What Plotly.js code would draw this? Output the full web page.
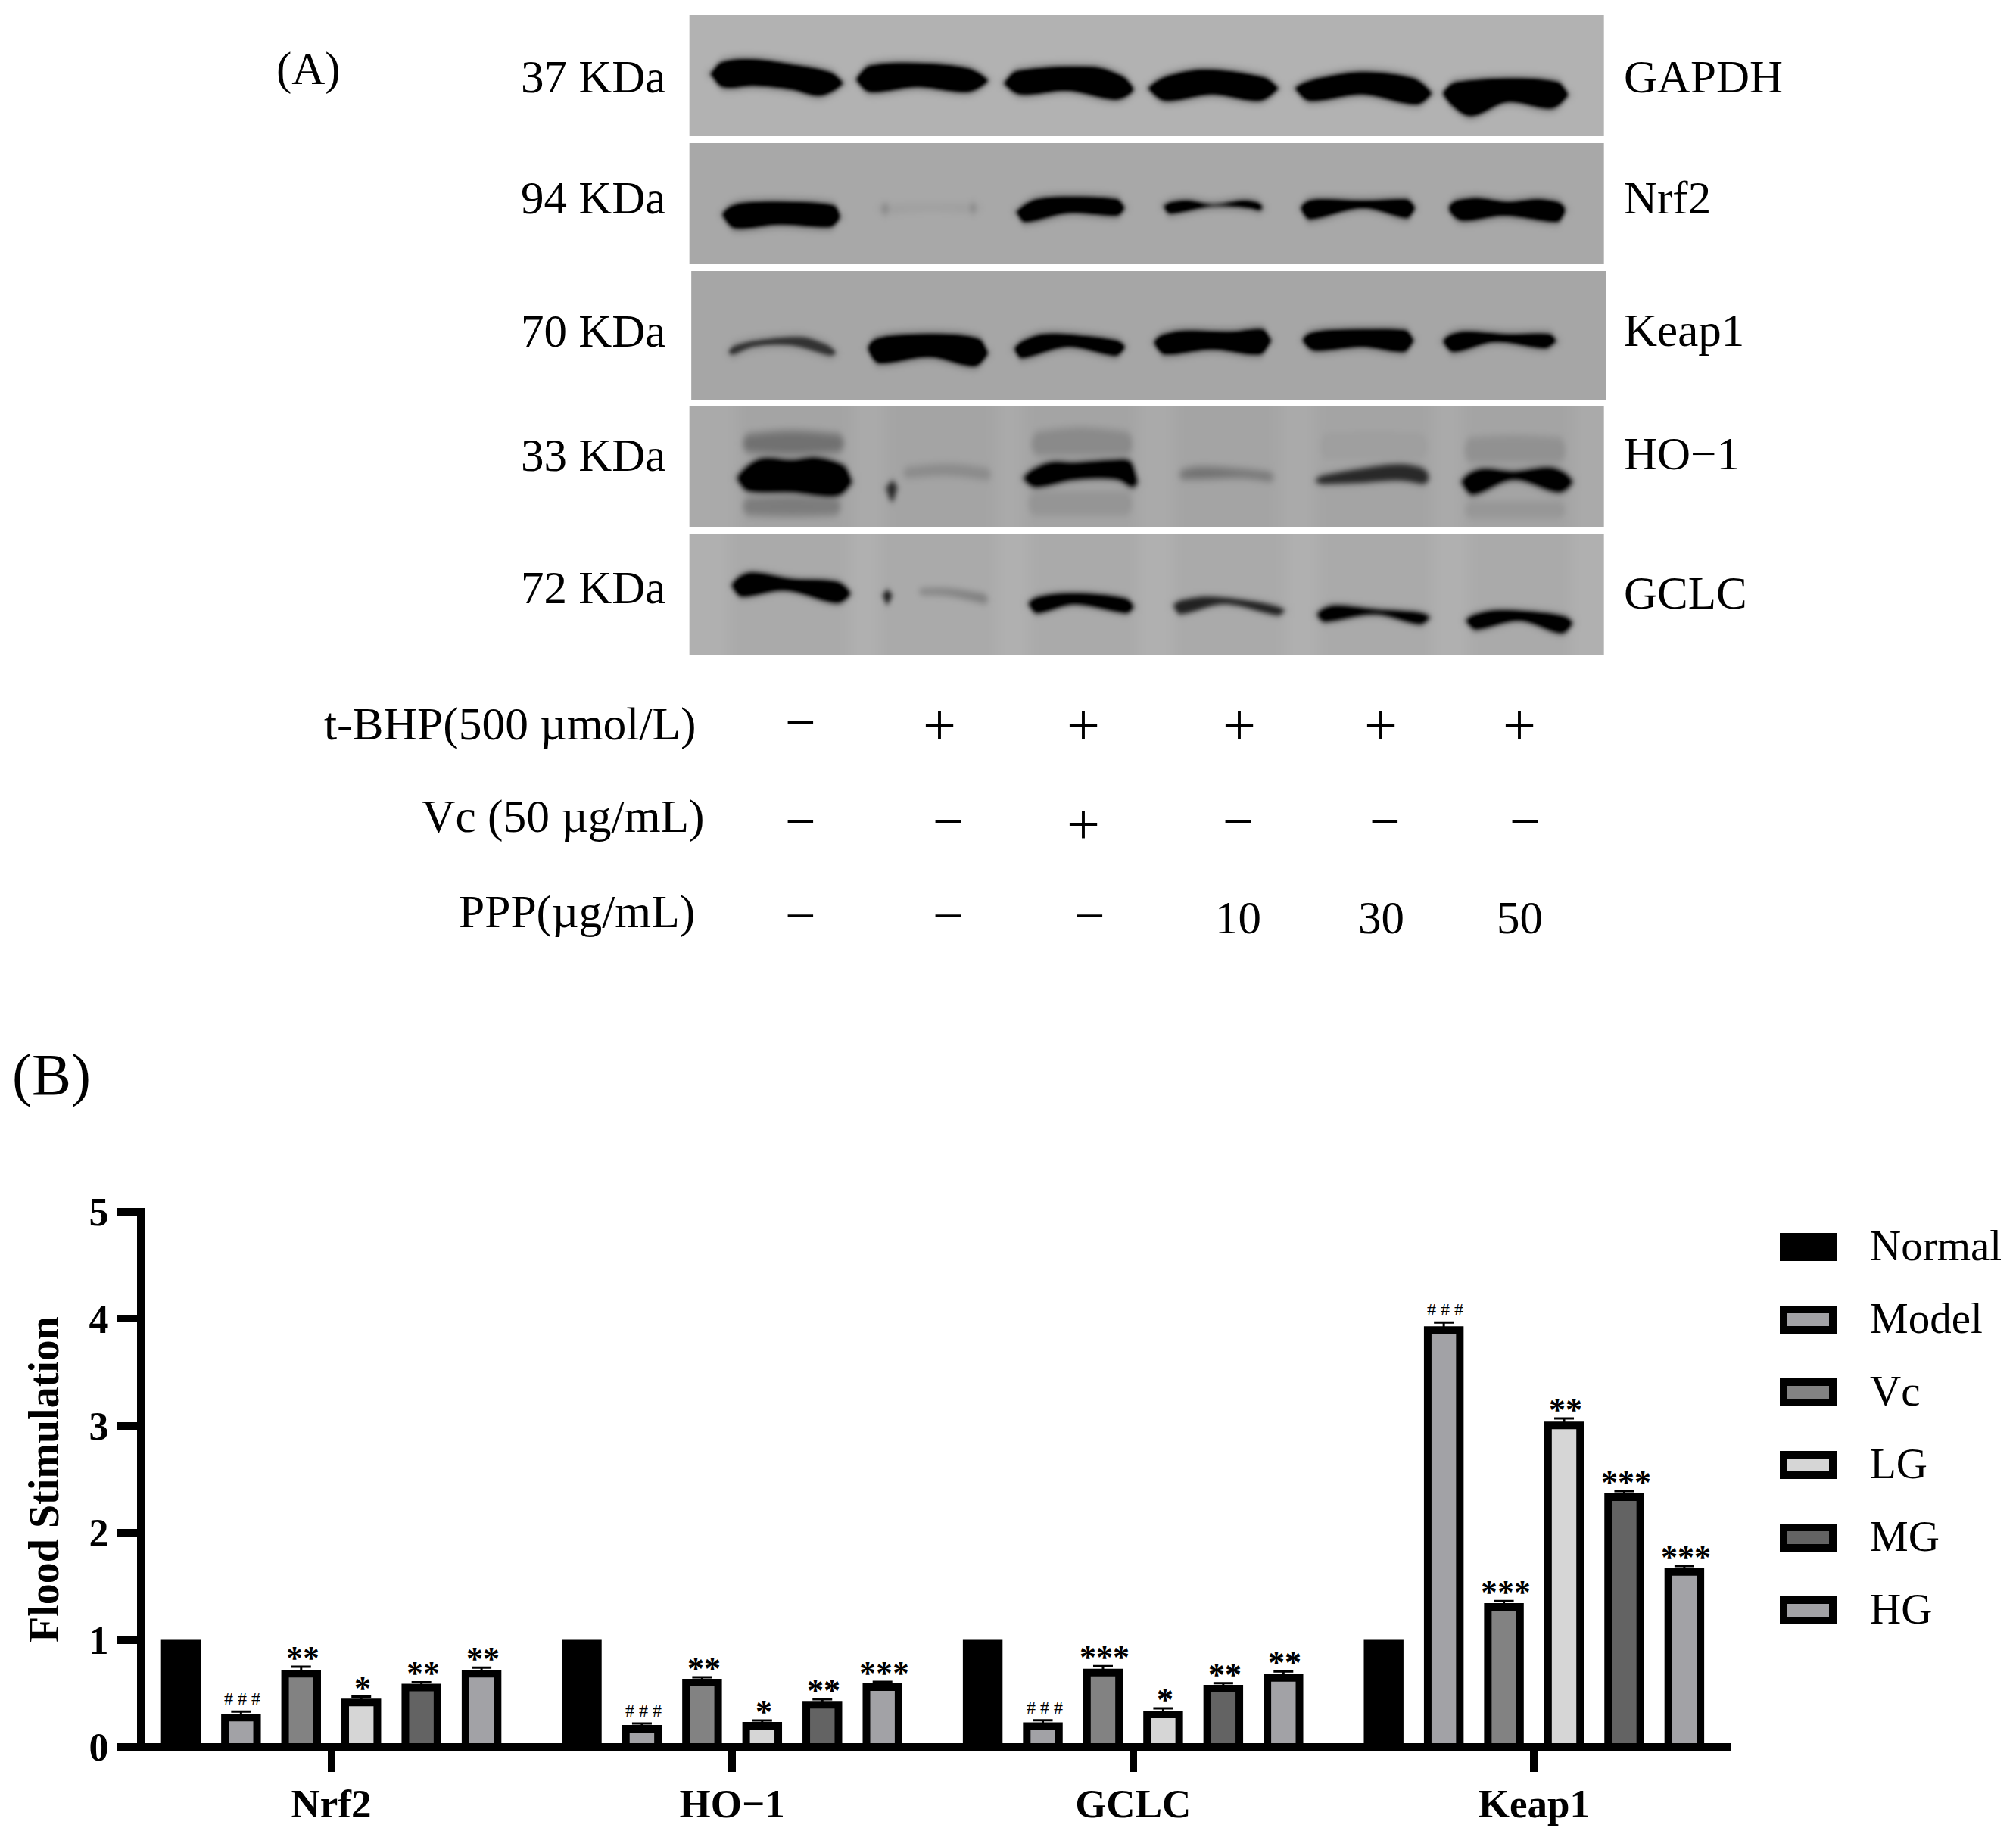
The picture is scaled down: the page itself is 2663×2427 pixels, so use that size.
<!DOCTYPE html>
<html><head><meta charset="utf-8">
<script src="https://cdn.plot.ly/plotly-3.0.1.min.js"></script>
<style>html,body{margin:0;padding:0;background:#fff}</style></head>
<body><div id="chart" style="width:2663px;height:2427px"></div>
<script>
// ---------- Panel B data ----------
const genes = ['Nrf2', 'HO\u22121', 'GCLC', 'Keap1'];
const seriesNames = ['Normal', 'Model', 'Vc', 'LG', 'MG', 'HG'];
const seriesColors = ['#000000', '#a2a2a6', '#828282', '#d6d6d6', '#636363', '#a2a2a6'];
const normal = [1, 1, 1, 1];
const model = [0.31, 0.205, 0.23, 3.93];
const vc = [0.72, 0.636, 0.73, 1.344];
const lg = [0.45, 0.233, 0.34, 3.04];
const mg = [0.59, 0.43, 0.58, 2.37];
const hg = [0.72, 0.594, 0.68, 1.67];
const errNormal = [0, 0, 0, 0];
const errModel = [0.02, 0.015, 0.02, 0.035];
const errVc = [0.03, 0.015, 0.025, 0.02];
const errLg = [0.02, 0.015, 0.02, 0.03];
const errMg = [0.015, 0.015, 0.015, 0.02];
const errHg = [0.02, 0.015, 0.025, 0.02];
const sigModel = ['###', '###', '###', '###'];
const sigVc = ['**', '**', '***', '***'];
const sigLg = ['*', '*', '*', '**'];
const sigMg = ['**', '**', '**', '***'];
const sigHg = ['**', '***', '**', '***'];
const yTicks = [0, 1, 2, 3, 4, 5];

// ---------- Panel A text ----------
const kdaLabels = ['37 KDa', '94 KDa', '70 KDa', '33 KDa', '72 KDa'];
const kdaBase = [122, 282, 458, 622, 797];
const proteinLabels = ['GAPDH', 'Nrf2', 'Keap1', 'HO\u22121', 'GCLC'];
const proteinBase = [122, 282, 457, 620, 804];
const treatRows = ['t-BHP(500 \u00b5mol/L)', 'Vc (50 \u00b5g/mL)', 'PPP(\u00b5g/mL)'];
const treatLeft = [427, 556, 605];
const treatBase = [978, 1100, 1226];
const tbhpMarks = ['\u2212', '+', '+', '+', '+', '+'];
const vcMarks = ['\u2212', '\u2212', '+', '\u2212', '\u2212', '\u2212'];
const pppMarks = ['\u2212', '\u2212', '\u2212', '10', '30', '50'];
const tbhpX = [1057, 1241, 1431, 1637, 1824, 2007];
const vcX = [1057, 1252, 1431, 1635, 1829, 2014];
const pppX = [1057, 1252, 1439, 1638, 1827, 2010];
const tbhpY = [956, 960, 960, 960, 960, 960];
const vcY = [1087, 1087, 1091, 1087, 1087, 1087];
const pppY = [1212, 1212, 1212, 1217, 1217, 1217];

// ---------- Panel A blots (traced band outlines: [x,y,...] top edge, bottom edge, density) ----------
const zoomX = z => 880 + z / 1.2062;
const blots = [
 {x0:37,x1:1494,y0:20,y1:180,bg:178,off:0,blur:2,lanes:[],bands:[
  [[70,285,90,245,140,235,200,255,260,285,282,320],[70,300,90,345,140,340,200,355,245,380,282,340],1],
  [[303,300,325,260,400,250,480,270,513,310],[303,330,325,365,400,345,480,365,513,330],1],
  [[538,320,560,280,680,265,725,300,745,340],[538,340,565,375,640,360,715,395,745,370],1],
  [[768,340,800,300,860,275,950,305,975,340],[768,360,795,400,870,375,945,400,975,360],1],
  [[1002,340,1040,310,1110,285,1190,310,1220,360],[1002,360,1025,400,1110,375,1195,415,1220,380],1],
  [[1238,350,1260,325,1350,310,1420,325,1437,360],[1238,390,1280,460,1340,405,1410,430,1437,390],1]]},
 {x0:37,x1:1494,y0:189,y1:350,bg:168,off:0,blur:2,lanes:[],bands:[
  [[90,830,120,805,200,800,270,815,277,840],[90,870,110,905,180,890,260,900,277,880],1],
  [[340,820,420,815,497,815],[340,845,420,830,497,840],0.07],
  [[340,815,348,812,358,815],[340,840,348,845,358,840],0.2],
  [[480,815,490,810,497,815],[480,835,490,840,497,835],0.2],
  [[558,830,590,790,650,780,720,790,730,810],[558,850,570,880,640,845,720,855,730,840],1],
  [[793,805,830,795,870,810,920,795,950,805],[793,830,800,848,870,818,930,825,950,842],1],
  [[1012,800,1040,790,1110,795,1180,790,1192,800],[1012,850,1025,870,1110,825,1180,865,1192,850],1],
  [[1247,800,1290,785,1340,800,1390,790,1432,805],[1247,850,1270,875,1335,855,1420,880,1432,860],1]]},
 {x0:40,x1:1497,y0:358,y1:529,bg:166,off:0,blur:2,lanes:[],bands:[
  [[100,1375,140,1350,215,1335,250,1360,270,1385],[100,1415,140,1375,200,1370,260,1410,270,1412],0.62],
  [[322,1350,360,1330,450,1325,500,1345,512,1380],[322,1410,340,1440,420,1415,490,1452,512,1420],1],
  [[555,1365,600,1325,680,1335,730,1355],[555,1400,565,1420,640,1375,715,1410,730,1395],1],
  [[778,1335,820,1312,900,1315,950,1305,963,1330],[778,1380,795,1405,870,1385,945,1405,963,1370],1],
  [[1015,1325,1050,1310,1120,1305,1180,1310,1190,1330],[1015,1370,1035,1390,1110,1375,1175,1395,1190,1370],1],
  [[1238,1335,1270,1315,1340,1325,1410,1325,1418,1345],[1238,1370,1255,1395,1320,1355,1400,1380,1418,1360],1]]},
 {x0:37,x1:1494,y0:536,y1:697,bg:170,off:470,blur:4,
  lanes:[[113,295],[350,525],[570,750],[810,975],[1035,1220],[1268,1443]],bands:[
  [[120,310,200,295,285,310],[120,385,200,395,285,385],0.3],
  [[120,560,200,550,280,560],[120,635,200,640,280,635],0.24],
  [[580,300,660,280,745,300],[580,400,660,400,745,400],0.17],
  [[575,530,660,530,745,530],[575,640,660,640,745,640],0.11],
  [[1040,300,1130,290,1215,300],[1040,420,1130,420,1215,420],0.06],
  [[1270,320,1350,310,1435,320],[1270,430,1350,430,1435,430],0.13],
  [[1270,570,1350,570,1435,570],[1270,650,1350,650,1435,650],0.1],
  [[113,470,150,410,200,415,240,405,285,440,295,480],[113,500,130,535,200,540,270,555,295,520],1],
  [[375,440,450,425,520,445],[375,490,450,480,520,500],0.17],
  [[350,520,362,495,368,520],[350,530,360,578,368,530],0.7],
  [[570,470,610,425,650,425,710,415,740,420,750,470],[570,500,590,520,650,490,720,490,745,530],1],
  [[815,455,850,440,920,450,970,465],[815,490,850,490,920,485,970,500],0.32],
  [[1035,480,1100,450,1170,430,1215,450],[1035,510,1100,505,1170,495,1215,515],0.68],
  [[1268,480,1300,450,1350,460,1410,445,1443,480],[1268,520,1285,550,1350,490,1420,540,1443,520],1]]},
 {x0:37,x1:1494,y0:706,y1:866,bg:176,off:470,blur:3,
  lanes:[[100,290],[340,525],[580,750],[810,985],[1040,1220],[1280,1440]],bands:[
  [[105,890,135,860,200,885,270,895,293,925],[105,930,120,955,190,930,270,980,293,960],1],
  [[345,945,352,928,360,945],[345,955,352,985,360,955],0.75],
  [[400,925,450,925,515,950],[400,945,450,950,515,985],0.32],
  [[578,965,620,945,680,945,735,965,745,985],[578,1000,590,1020,650,985,735,1020,745,1005],1],
  [[808,975,860,955,940,975,985,1000],[808,1005,818,1025,890,985,975,1030,985,1020],0.72],
  [[1037,1010,1065,990,1130,1005,1190,1015,1216,1025],[1037,1040,1048,1055,1130,1025,1200,1065,1216,1050],0.95],
  [[1275,1035,1320,1010,1400,1020,1443,1040],[1275,1065,1290,1085,1360,1050,1425,1100,1443,1080],1]]}
];

// ---------- helpers ----------
const W = 2663, H = 2427;
const BORDER = 10;                 // bar outline width, px
const UNIT = 141.4;                // px per y unit
const inset = (BORDER / 2) / UNIT; // Plotly centres the outline on the bar edge; the reference keeps it inside
const CAT = 529.6, CAT0 = 437.5;   // px per category, px of first category
const DL = 191, DR = 2286, DT = 1596, DB = 2313;

function serif(size, bold, color) {
  return {family: '"Liberation Serif","Times New Roman",serif', size: size, color: color || '#000', weight: bold ? 700 : 400};
}
const annotations = [];
function label(text, x, baseline, size, xanchor, bold) {
  annotations.push({xref: 'x2', yref: 'y2', x: x, y: baseline + 0.216 * size + 1, text: text, showarrow: false,
    xanchor: xanchor, yanchor: 'bottom', font: serif(size, bold), borderpad: 0});
}
label('(A)', 364, 112, 61, 'left');
label('(B)', 15, 1446, 78, 'left');
kdaLabels.forEach((t, i) => label(t, 880, kdaBase[i], 61, 'right'));
proteinLabels.forEach((t, i) => label(t, 2144, proteinBase[i], 61, 'left'));
treatRows.forEach((t, i) => label(t, treatLeft[i], treatBase[i], 61.5, 'left'));
[[tbhpMarks, tbhpX, tbhpY], [vcMarks, vcX, vcY], [pppMarks, pppX, pppY]].forEach(([marks, xs, ys]) => {
  marks.forEach((m, i) => {
    if (/\d/.test(m)) { label(m, xs[i] - 3, ys[i] + 16, 61, 'center'); return; }
    const size = m === '+' ? 78 : 72;
    label(m, xs[i], ys[i] + 0.31 * size, size, 'center');
  });
});

// ---------- blot heatmaps ----------
function curve(pts, x) {
  const n = pts.length / 2;
  const px = i => pts[2 * i], py = i => pts[2 * i + 1];
  if (x <= px(0)) return py(0);
  if (x >= px(n - 1)) return py(n - 1);
  let i = 0;
  while (x > px(i + 1)) i++;
  const h = px(i + 1) - px(i), t = (x - px(i)) / h;
  const slope = k => k <= 0 ? (py(1) - py(0)) / (px(1) - px(0))
    : k >= n - 1 ? (py(n - 1) - py(n - 2)) / (px(n - 1) - px(n - 2))
    : (py(k + 1) - py(k - 1)) / (px(k + 1) - px(k - 1));
  const t2 = t * t, t3 = t2 * t;
  return (2 * t3 - 3 * t2 + 1) * py(i) + (t3 - 2 * t2 + t) * h * slope(i) + (-2 * t3 + 3 * t2) * py(i + 1) + (t3 - t2) * h * slope(i + 1);
}
const sstep = t => { t = Math.max(0, Math.min(1, t)); return t * t * (3 - 2 * t); };
function boxBlur(M) {
  const h = M.length, w = M[0].length;
  const horiz = M.map(r => r.map((_, c) => (r[Math.max(0, c - 1)] + r[c] + r[Math.min(w - 1, c + 1)]) / 3));
  return horiz.map((r, y) => r.map((_, c) => (horiz[Math.max(0, y - 1)][c] + horiz[y][c] + horiz[Math.min(h - 1, y + 1)][c]) / 3));
}
const traces = [];
blots.forEach(p => {
  const bands = p.bands.map(b => {
    const conv = a => a.map((v, i) => i % 2 ? p.off + v / 3 : zoomX(v));
    return {top: conv(b[0]), bot: conv(b[1]), d: b[2]};
  });
  const laneX = p.lanes.map(l => [zoomX(l[0]), zoomX(l[1])]);
  const xs = [], ys = [];
  const X0 = zoomX(p.x0), X1 = zoomX(p.x1);
  for (let x = X0 + 1; x < X1; x += 2) xs.push(x);
  for (let y = p.y0 + 1; y < p.y1; y += 2) ys.push(y);
  let D = ys.map(y => xs.map(x => {
    let dark = 0;
    laneX.forEach(l => { dark = Math.max(dark, 0.03 * sstep((x - l[0] + 16) / 32) * sstep((l[1] - x + 16) / 32)); });
    bands.forEach(b => {
      const bx0 = b.top[0], bx1 = b.top[b.top.length - 2];
      if (x < bx0 - 16 || x > bx1 + 16) return;
      let t = curve(b.top, x), u = curve(b.bot, x);
      const r = Math.min(12, (bx1 - bx0) / 2), e = Math.min(x - bx0, bx1 - x);
      if (e < r) {
        const f = e <= 0 ? 0 : Math.sqrt(1 - (1 - e / r) * (1 - e / r));
        const mid = (t + u) / 2;
        t = mid - (mid - t) * f;
        u = mid + (u - mid) * f;
      }
      const faint = b.d < 0.4;
      const soft = faint ? 20 : 3, fx = faint ? 16 : 1;
      const core = (faint ? sstep((x - bx0 + fx / 2) / fx) * sstep((bx1 - x + fx / 2) / fx) : (e >= 0 ? 1 : 0))
        * sstep((y - t + soft / 2) / soft) * sstep((u - y + soft / 2) / soft);
      const halo = sstep((x - bx0 + 10) / 14) * sstep((bx1 - x + 10) / 14) * sstep((y - t + 12) / 14) * sstep((u - y + 12) / 14);
      dark = Math.max(dark, core * b.d, halo * b.d * 0.2);
    });
    return dark;
  }));
  for (let k = 0; k < p.blur; k++) D = boxBlur(D);
  const z = D.map(r => r.map(d => Math.round(p.bg * (1 - Math.min(1, d * 1.12)))));
  traces.push({type: 'heatmap', x: xs, y: ys, z: z, xaxis: 'x2', yaxis: 'y2', zmin: 0, zmax: 255,
    colorscale: [[0, '#000'], [1, '#fff']], showscale: false, hoverinfo: 'skip', zsmooth: 'fast'});
});

// ---------- panel B traces ----------
const seriesValues = [normal, model, vc, lg, mg, hg];
const seriesErr = [errNormal, errModel, errVc, errLg, errMg, errHg];
const seriesSig = [null, sigModel, sigVc, sigLg, sigMg, sigHg];
seriesNames.forEach((name, s) => {
  traces.push({type: 'bar', name: name, x: genes, y: seriesValues[s].map(v => v - inset),
    marker: {color: seriesColors[s], line: {color: '#000', width: BORDER}},
    error_y: s === 0 ? {visible: false} : {type: 'data', symmetric: false, array: seriesErr[s].map(e => e + inset), arrayminus: genes.map(() => 0),
      color: '#000', thickness: 3, width: 13},
    showlegend: false, hoverinfo: 'x+y+name'});
  if (seriesSig[s]) seriesSig[s].forEach((t, g) => {
    const hash = t.indexOf('#') >= 0;
    annotations.push({xref: 'x', yref: 'y', x: g + (s - 2.5) * 0.15 + 0.004, y: seriesValues[s][g] + seriesErr[s][g],
      text: hash ? '# # #' : t, showarrow: false, xanchor: 'center', yanchor: 'bottom', borderpad: 0,
      yshift: hash ? 3 : -14, font: serif(hash ? 24 : 44, !hash)});
  });
});

// ---------- legend drawn to the reference's large swatches ----------
const shapes = [];
seriesNames.forEach((name, i) => {
  const top = 1629 + i * 96;
  shapes.push({type: 'rect', xref: 'x2', yref: 'y2', x0: 2356, x1: 2421, y0: top + 5, y1: top + 32,
    fillcolor: seriesColors[i], line: {color: '#000', width: BORDER}});
  label(name, 2469, top + 36, 57, 'left');
});

const layout = {
  width: W, height: H, margin: {l: 0, r: 0, t: 0, b: 0}, paper_bgcolor: '#fff', plot_bgcolor: 'rgba(0,0,0,0)',
  showlegend: false, barmode: 'group', bargap: 0.1, bargroupgap: 0.466, annotations: annotations, shapes: shapes,
  xaxis: {domain: [DL / W, DR / W], range: [(DL - CAT0) / CAT, (DR - CAT0) / CAT], type: 'category', categoryorder: 'array', categoryarray: genes,
    anchor: 'y', showline: false, showgrid: false, zeroline: false, ticks: 'outside', ticklen: 27, tickwidth: 10, tickcolor: '#000',
    tickfont: serif(53, true), ticklabelstandoff: -4},
  yaxis: {domain: [(H - DB) / H, (H - DT) / H], range: [-(DB - 2308) / UNIT, 5 + (1601 - DT) / UNIT], anchor: 'x',
    tickmode: 'array', tickvals: yTicks, ticktext: yTicks.map(String), showgrid: false,
    showline: true, linewidth: 10, linecolor: '#000', zeroline: true, zerolinewidth: 10, zerolinecolor: '#000',
    ticks: 'outside', ticklen: 27, tickwidth: 10, tickcolor: '#000', tickfont: serif(52, true),
    title: {text: 'Flood Stimulation', font: serif(56, true), standoff: 26}},
  xaxis2: {domain: [0, 1], range: [0, W], visible: false, anchor: 'y2', fixedrange: true},
  yaxis2: {domain: [0, 1], range: [H, 0], visible: false, anchor: 'x2', fixedrange: true}
};
Plotly.newPlot('chart', traces, layout, {displayModeBar: false, responsive: false});
</script></body></html>
